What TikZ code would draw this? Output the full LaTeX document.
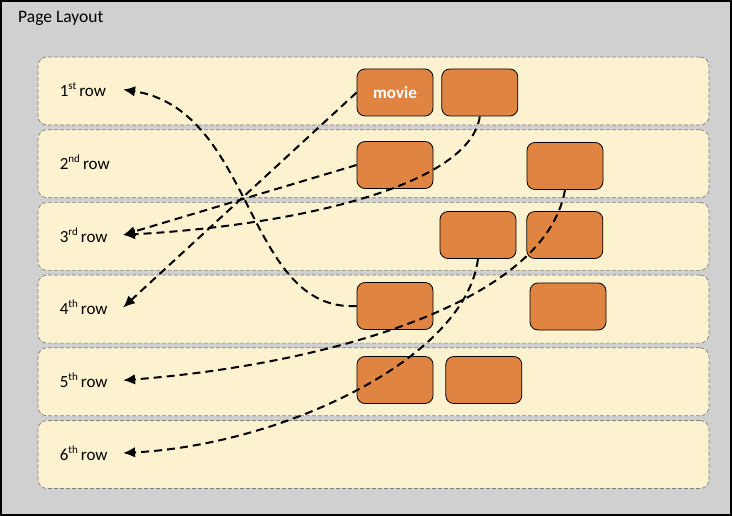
\documentclass[tikz,border=0pt]{standalone}
\usepackage{fontspec}
\setmainfont{Carlito}
\usepackage{tikz}
\usetikzlibrary{
  arrows.meta,
  positioning
}
\definecolor{pagegray}{RGB}{209,208,209}
\definecolor{rowcream}{RGB}{252,242,208}
\definecolor{rowedge}{RGB}{128,128,128}
\definecolor{tileorange}{RGB}{224,132,66}
\newcommand{\ordsup}[1]{\raisebox{0.42em}{\fontsize{11}{12}\selectfont #1}\hspace{3pt}}
\tikzset{
  band/.style={draw=rowedge,line width=0.7pt,dash pattern=on 4pt off 2pt,
    fill=rowcream,rounded corners=9pt,minimum width=671pt,
    minimum height=68pt,inner sep=0pt},
  rowlab/.style={font=\fontsize{17}{20}\selectfont,text width=60pt,
    align=left,inner xsep=3pt,inner ysep=0pt,yshift=1.5pt},
  tile/.style={draw=black,line width=0.8pt,fill=tileorange,
    rounded corners=8pt,minimum width=76pt,minimum height=47pt,
    inner sep=0pt,font=\fontsize{17}{20}\selectfont\bfseries,text=white},
  jump/.style={-{Latex[length=12pt,width=10.5pt]},line width=2pt,
    dash pattern=on 8pt off 5pt}
}

\begin{document}
\begin{tikzpicture}[x=1pt,y=-1pt]
  \useasboundingbox (0,0) rectangle (732,516);
  \draw[line width=1.2pt,fill=pagegray] (1,1) rectangle (731,515);
  \node[anchor=west,inner sep=0pt,font=\fontsize{17.5}{20}\selectfont]
    (title) at (18,18) {Page Layout};

  % rows of the page
  \node[band] (row1) at (373.5,91) {};
  \node[band,below=4pt of row1] (row2) {};
  \node[band,below=4pt of row2] (row3) {};
  \node[band,below=4pt of row3] (row4) {};
  \node[band,below=4pt of row4] (row5) {};
  \node[band,below=4pt of row5] (row6) {};

  \node[rowlab,right=19pt of row1.west] (lab1) {1\ordsup{st}row};
  \node[rowlab,right=19pt of row2.west] (lab2) {2\ordsup{nd}row};
  \node[rowlab,right=19pt of row3.west] (lab3) {3\ordsup{rd}row};
  \node[rowlab,right=19pt of row4.west] (lab4) {4\ordsup{th}row};
  \node[rowlab,right=19pt of row5.west] (lab5) {5\ordsup{th}row};
  \node[rowlab,right=19pt of row6.west] (lab6) {6\ordsup{th}row};

  % tiles
  \node[tile] (movie) at (395,92.5) {movie};
  \node[tile,right=8pt of movie] (t1b) {};
  \node[tile] (t2a) at (395,165) {};
  \node[tile] (t2b) at (565,166) {};
  \node[tile] (t3a) at (478,235) {};
  \node[tile,right=10pt of t3a] (t3b) {};
  \node[tile] (t4a) at (395,306) {};
  \node[tile] (t4b) at (568,306.5) {};
  \node[tile] (t5a) at (395,380) {};
  \node[tile,right=12pt of t5a] (t5b) {};

  % where each tile goes
  \draw[jump] (t4a.west) .. controls (245,312) and (255,110) .. (lab1.east);
  \draw[jump] (movie.west) -- (lab4.east);
  \draw[jump] (t1b.south) .. controls (470,185) and (300,225) .. (lab3.east);
  \draw[jump] (t2a.west) -- (lab3.east);
  \draw[jump] (t2b.south) .. controls (545,305) and (320,365) .. (lab5.east);
  \draw[jump] (t3a.south) .. controls (465,360) and (280,445) .. (lab6.east);
\end{tikzpicture}
\end{document}
